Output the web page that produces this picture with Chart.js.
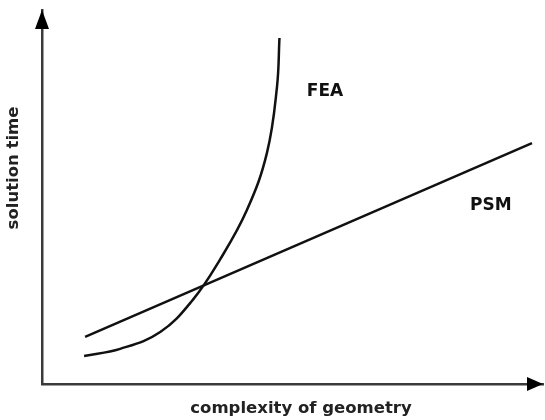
<!DOCTYPE html>
<html>
<head>
<meta charset="utf-8">
<script src="https://cdn.jsdelivr.net/npm/chart.js@4.4.1/dist/chart.umd.min.js"></script>
<style>
  html, body { margin:0; padding:0; background:#fff; }
  #c { display:block; }
</style>
</head>
<body>
<canvas id="c" width="545" height="420"></canvas>
<script>
// data (arbitrary units, axis 0..100)
const feaX = [8.4, 15.6, 23.6, 30.1, 35.5, 40.9, 44.9, 46.9, 47.4];
const feaY = [7.5, 9.4, 13.9, 22.5, 33.2, 46.5, 61.8, 79.4, 92.5];
const psmX = [8.6, 97.8];
const psmY = [12.6, 64.4];

const curveNames = ['FEA', 'PSM'];
const labelX = [56.5, 89.6];
const labelY = [78.1, 47.6];

const xTitle = 'complexity of geometry';
const yTitle = 'solution time';

const pts = (xs, ys) => xs.map((x, i) => ({ x, y: ys[i] }));

const AXIS = '#3a3a3a';

// arrows, curve labels, axis titles
const decor = {
  id: 'decor',
  afterDraw(chart){
    const { ctx, chartArea: a, scales: { x, y } } = chart;
    ctx.save();
    ctx.fillStyle = '#000';
    ctx.beginPath();
    ctx.moveTo(a.left, a.top);
    ctx.lineTo(a.left - 7, a.top + 19);
    ctx.lineTo(a.left + 7, a.top + 19);
    ctx.closePath(); ctx.fill();
    ctx.beginPath();
    ctx.moveTo(a.right, a.bottom);
    ctx.lineTo(a.right - 16, a.bottom - 7);
    ctx.lineTo(a.right - 16, a.bottom + 7);
    ctx.closePath(); ctx.fill();

    ctx.fillStyle = '#111';
    ctx.font = 'bold 17px "DejaVu Sans"';
    ctx.textAlign = 'center'; ctx.textBaseline = 'middle';
    curveNames.forEach((n, i) => {
      ctx.fillText(n, x.getPixelForValue(labelX[i]), y.getPixelForValue(labelY[i]));
    });

    ctx.fillStyle = '#222';
    ctx.font = 'bold 16.5px "DejaVu Sans"';
    ctx.fillText(xTitle, a.left + 259, a.bottom + 25);
    ctx.translate(a.left - 28, a.top + 158);
    ctx.rotate(-Math.PI / 2);
    ctx.fillText(yTitle, 0, 0);
    ctx.restore();
  }
};

const lineStyle = { borderColor:'#111', borderWidth:2.5, pointRadius:0, fill:false, showLine:true };

new Chart(document.getElementById('c').getContext('2d'), {
  type: 'scatter',
  data: {
    datasets: [
      { label: curveNames[0], data: pts(feaX, feaY), tension: 0.4, ...lineStyle },
      { label: curveNames[1], data: pts(psmX, psmY), tension: 0, ...lineStyle }
    ]
  },
  options: {
    responsive: false,
    animation: false,
    layout: { padding: { left: 34, top: 10, right: 2, bottom: 28 } },
    plugins: { legend: { display:false }, tooltip: { enabled:false } },
    scales: {
      x: { type:'linear', min:0, max:100,
           ticks:{ display:false }, grid:{ display:false },
           border:{ display:true, color:AXIS, width:2.5 } },
      y: { type:'linear', min:0, max:100,
           ticks:{ display:false }, grid:{ display:false },
           border:{ display:true, color:AXIS, width:2.5 } }
    }
  },
  plugins: [decor]
});
</script>
</body>
</html>
